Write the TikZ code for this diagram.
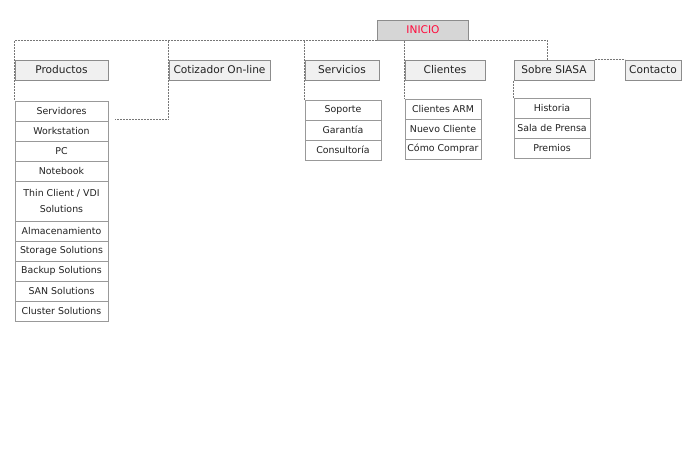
\documentclass[tikz,border=0pt]{standalone}
\usepackage{fontspec}
\setmainfont{DejaVu Sans}
\usetikzlibrary{backgrounds}
\definecolor{hdrfill}{HTML}{F0F0F0}
\definecolor{inifill}{HTML}{D6D6D6}
\definecolor{inired}{HTML}{FF0A3C}
\definecolor{boxline}{HTML}{8C8C8C}
\definecolor{subline}{HTML}{999999}
\definecolor{conncol}{HTML}{777777}
\definecolor{txt}{HTML}{222222}
\tikzset{
  hdr/.style={draw=boxline, fill=hdrfill, line width=1pt, minimum height=20pt, inner sep=0pt, anchor=north west, text=txt, font=\fontsize{10.6}{12}\selectfont},
  ini/.style={hdr, fill=inifill, text=inired},
  sub/.style={draw=subline, fill=white, line width=1pt, minimum height=20pt, inner sep=0pt, anchor=north west, text=txt, font=\fontsize{9.4}{12}\selectfont, align=center},
  conn/.style={draw=conncol, line width=1pt, dash pattern=on 2pt off 1pt},
}
\begin{document}
\begin{tikzpicture}[x=1pt,y=-1pt]
\useasboundingbox (0,0) rectangle (695,450);
% headers
\node[ini, minimum width=91pt] (inicio) at (377,19.5) {INICIO};
\node[hdr, minimum width=93pt] (prod) at (14.5,59.5) {Productos};
\node[hdr, minimum width=101pt] (coti) at (168.5,59.5) {Cotizador On-line};
\node[hdr, minimum width=74pt] (serv) at (304.5,59.5) {Servicios};
\node[hdr, minimum width=80pt] (cli) at (404.5,59.5) {Clientes};
\node[hdr, minimum width=80pt] (sobre) at (513.5,59.5) {Sobre SIASA};
\node[hdr, minimum width=56pt] (contacto) at (624.5,59.5) {Contacto};
% productos
\node[sub, minimum width=93pt] (p1) at (14.5,100.5) {Servidores};
\node[sub, minimum width=93pt] (p2) at (14.5,120.5) {Workstation};
\node[sub, minimum width=93pt] (p3) at (14.5,140.5) {PC};
\node[sub, minimum width=93pt] (p4) at (14.5,160.5) {Notebook};
\node[sub, minimum width=93pt, minimum height=40pt, font=\fontsize{9.4}{16}\selectfont] (p5) at (14.5,180.5) {Thin Client / VDI\\Solutions};
\node[sub, minimum width=93pt] (p6) at (14.5,220.5) {Almacenamiento};
\node[sub, minimum width=93pt] (p7) at (14.5,240.5) {Storage Solutions};
\node[sub, minimum width=93pt] (p8) at (14.5,260.5) {Backup Solutions};
\node[sub, minimum width=93pt] (p9) at (14.5,280.5) {SAN Solutions};
\node[sub, minimum width=93pt] (p10) at (14.5,300.5) {Cluster Solutions};
% servicios
\node[sub, minimum width=76pt] (s1) at (304.5,99.5) {Soporte};
\node[sub, minimum width=76pt] (s2) at (304.5,119.5) {Garantía};
\node[sub, minimum width=76pt] (s3) at (304.5,139.5) {Consultoría};
% clientes
\node[sub, minimum width=76pt] (c1) at (404.5,98.5) {Clientes ARM};
\node[sub, minimum width=76pt] (c2) at (404.5,118.5) {Nuevo Cliente};
\node[sub, minimum width=76pt] (c3) at (404.5,138.5) {Cómo Comprar};
% sobre siasa
\node[sub, minimum width=76pt] (h1) at (513.5,97.5) {Historia};
\node[sub, minimum width=76pt] (h2) at (513.5,117.5) {Sala de Prensa};
\node[sub, minimum width=76pt] (h3) at (513.5,137.5) {Premios};
% connectors
\coordinate (cotiend) at (115,119.5);
\coordinate (sobretop) at (547.5,59.5);
\begin{scope}[on background layer]
\draw[conn] (inicio.south west) -| (p1.north west);
\draw[conn] (coti.north west |- inicio.south) |- (cotiend);
\draw[conn] (serv.north west |- inicio.south) -- (s1.north west);
\draw[conn] (cli.north west |- inicio.south) -- (c1.north west);
\draw[conn] (inicio.south east) -| (sobretop);
\draw[conn] (sobre.north east) -- (contacto.north west);
\draw[conn] (sobre.south west) -- (h1.north west);
\end{scope}
\end{tikzpicture}
\end{document}
